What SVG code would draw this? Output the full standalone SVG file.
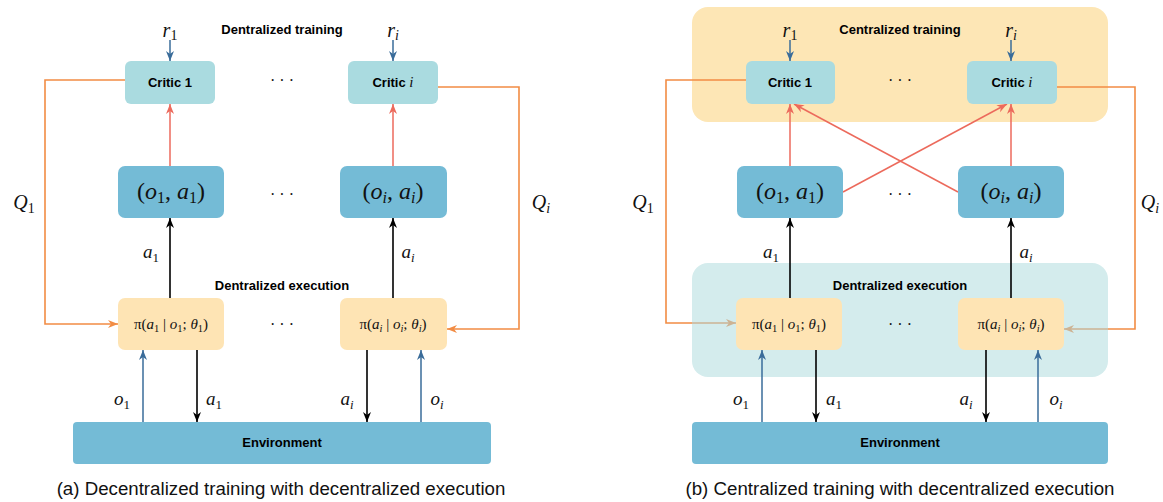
<svg xmlns="http://www.w3.org/2000/svg" width="1163" height="502" viewBox="0 0 1163 502">
<style>
.bg{fill:#ffffff}
.crit{fill:#aadbe0}
.oa{fill:#74bbd6}
.pol{fill:#fee4b4}
.env{fill:#74bbd6}
.trbg{fill:#fde6b5}
.exbg{fill:#d4eced}
.lbl{font-family:"Liberation Sans",Arial,sans-serif;font-weight:bold;font-size:13px;fill:#000;text-anchor:middle}
.cap{font-family:"Liberation Sans",Arial,sans-serif;font-size:18.7px;fill:#111;text-anchor:middle}
.m{font-family:"Liberation Serif","Times New Roman",serif;font-style:italic;fill:#111;text-anchor:middle}
.u{font-style:normal}
.dots{font-family:"Liberation Serif",serif;font-size:16px;fill:#111;text-anchor:middle}
.blk{stroke:#000;stroke-width:1.6;fill:none}
.blu{stroke:#3a6c9a;stroke-width:1.5;fill:none}
.red{stroke:#ec6a5c;stroke-width:1.5;fill:none}
.org{stroke:#f28c44;stroke-width:1.6;fill:none}
.tan{stroke:#cdb393;stroke-width:1.6;fill:none}
</style>
<defs>
<marker id="ab" viewBox="0 0 10 10" refX="10" refY="5" markerWidth="10" markerHeight="10" markerUnits="userSpaceOnUse" orient="auto"><path d="M0,1 L10,5 L0,9 L3,5 z" fill="#000"/></marker>
<marker id="au" viewBox="0 0 10 10" refX="10" refY="5" markerWidth="10" markerHeight="10" markerUnits="userSpaceOnUse" orient="auto"><path d="M0,1 L10,5 L0,9 L3,5 z" fill="#3a6c9a"/></marker>
<marker id="ar" viewBox="0 0 10 10" refX="10" refY="5" markerWidth="10" markerHeight="10" markerUnits="userSpaceOnUse" orient="auto"><path d="M0,1 L10,5 L0,9 L3,5 z" fill="#ec6a5c"/></marker>
<marker id="ao" viewBox="0 0 10 10" refX="10" refY="5" markerWidth="10" markerHeight="10" markerUnits="userSpaceOnUse" orient="auto"><path d="M0,1 L10,5 L0,9 L3,5 z" fill="#f28c44"/></marker>
<marker id="at" viewBox="0 0 10 10" refX="10" refY="5" markerWidth="10" markerHeight="10" markerUnits="userSpaceOnUse" orient="auto"><path d="M0,1 L10,5 L0,9 L3,5 z" fill="#cdb393"/></marker>
</defs>
<rect class="bg" x="0" y="0" width="1163" height="502"/>

<g id="centralized-training-region">
<rect class="trbg" x="692" y="7" width="416" height="115" rx="16"/>
<text class="lbl" x="900" y="34">Centralized training</text>
</g>
<g id="decentralized-execution-region-b">
<rect class="exbg" x="692" y="263" width="416" height="114" rx="16"/>
<text class="lbl" x="900" y="290">Dentralized execution</text>
</g>

<g id="connectors">
<line class="blu" x1="170" y1="40" x2="170" y2="61" marker-end="url(#au)"/>
<line class="blu" x1="393" y1="40" x2="393" y2="61" marker-end="url(#au)"/>
<line class="red" x1="170" y1="166" x2="170" y2="104" marker-end="url(#ar)"/>
<line class="red" x1="393" y1="166" x2="393" y2="104" marker-end="url(#ar)"/>
<line class="blk" x1="170" y1="298" x2="170" y2="218" marker-end="url(#ab)"/>
<line class="blk" x1="393" y1="298" x2="393" y2="218" marker-end="url(#ab)"/>
<polyline class="org" points="125,80 45,80 45,324 118,324" marker-end="url(#ao)"/>
<polyline class="org" points="438,87 519,87 519,329 447,329" marker-end="url(#ao)"/>
<line class="blu" x1="143" y1="422" x2="143" y2="350" marker-end="url(#au)"/>
<line class="blk" x1="197" y1="350" x2="197" y2="422" marker-end="url(#ab)"/>
<line class="blk" x1="367" y1="350" x2="367" y2="422" marker-end="url(#ab)"/>
<line class="blu" x1="421" y1="422" x2="421" y2="350" marker-end="url(#au)"/>
<line class="blu" x1="790" y1="40" x2="790" y2="61" marker-end="url(#au)"/>
<line class="blu" x1="1011" y1="40" x2="1011" y2="61" marker-end="url(#au)"/>
<line class="red" x1="790" y1="166" x2="790" y2="104" marker-end="url(#ar)"/>
<line class="red" x1="1011" y1="166" x2="1011" y2="104" marker-end="url(#ar)"/>
<line class="red" x1="843" y1="192" x2="1007" y2="104" marker-end="url(#ar)"/>
<line class="red" x1="958" y1="192" x2="794" y2="104" marker-end="url(#ar)"/>
<line class="blk" x1="790" y1="298" x2="790" y2="218" marker-end="url(#ab)"/>
<line class="blk" x1="1011" y1="298" x2="1011" y2="218" marker-end="url(#ab)"/>
<polyline class="org" points="746,80 666,80 666,323 692,323"/>
<line class="tan" x1="692" y1="323" x2="736" y2="323" marker-end="url(#at)"/>
<polyline class="org" points="1057,87 1135,87 1135,329 1108,329"/>
<line class="tan" x1="1108" y1="329" x2="1064" y2="329" marker-end="url(#at)"/>
<line class="blu" x1="762" y1="422" x2="762" y2="350" marker-end="url(#au)"/>
<line class="blk" x1="816" y1="350" x2="816" y2="422" marker-end="url(#ab)"/>
<line class="blk" x1="986" y1="350" x2="986" y2="422" marker-end="url(#ab)"/>
<line class="blu" x1="1038" y1="422" x2="1038" y2="350" marker-end="url(#au)"/>
</g>

<g id="edge-labels">
<text class="m" font-size="20" x="170" y="37">r<tspan class="u" font-size="14" dy="3">1</tspan></text>
<text class="m" font-size="20" x="393" y="37">r<tspan font-size="14" dy="3">i</tspan></text>
<text class="m" font-size="20" x="24" y="209">Q<tspan class="u" font-size="14" dy="4">1</tspan></text>
<text class="m" font-size="20" x="541" y="209">Q<tspan font-size="14" dy="4">i</tspan></text>
<text class="m" font-size="19" x="151" y="258">a<tspan class="u" font-size="13" dy="4">1</tspan></text>
<text class="m" font-size="19" x="408" y="258">a<tspan font-size="13" dy="4">i</tspan></text>
<text class="m" font-size="19" x="122" y="405">o<tspan class="u" font-size="13" dy="4">1</tspan></text>
<text class="m" font-size="19" x="214" y="405">a<tspan class="u" font-size="13" dy="4">1</tspan></text>
<text class="m" font-size="19" x="347" y="405">a<tspan font-size="13" dy="4">i</tspan></text>
<text class="m" font-size="19" x="437" y="405">o<tspan font-size="13" dy="4">i</tspan></text>
<text class="m" font-size="20" x="790" y="37">r<tspan class="u" font-size="14" dy="3">1</tspan></text>
<text class="m" font-size="20" x="1011" y="37">r<tspan font-size="14" dy="3">i</tspan></text>
<text class="m" font-size="20" x="643" y="209">Q<tspan class="u" font-size="14" dy="4">1</tspan></text>
<text class="m" font-size="20" x="1150" y="209">Q<tspan font-size="14" dy="4">i</tspan></text>
<text class="m" font-size="19" x="771" y="258">a<tspan class="u" font-size="13" dy="4">1</tspan></text>
<text class="m" font-size="19" x="1026" y="258">a<tspan font-size="13" dy="4">i</tspan></text>
<text class="m" font-size="19" x="741" y="405">o<tspan class="u" font-size="13" dy="4">1</tspan></text>
<text class="m" font-size="19" x="834" y="405">a<tspan class="u" font-size="13" dy="4">1</tspan></text>
<text class="m" font-size="19" x="966" y="405">a<tspan font-size="13" dy="4">i</tspan></text>
<text class="m" font-size="19" x="1056" y="405">o<tspan font-size="13" dy="4">i</tspan></text>
</g>

<g id="a-training-label"><text class="lbl" x="282" y="34">Dentralized training</text></g>
<g id="a-execution-label"><text class="lbl" x="282" y="290">Dentralized execution</text></g>
<g id="a-critic-1"><rect class="crit" x="125" y="61" width="90" height="43" rx="6"/><text class="lbl" x="170" y="87">Critic 1</text></g>
<g id="a-critic-i"><rect class="crit" x="348" y="61" width="90" height="43" rx="6"/><text class="lbl" x="393" y="87">Critic <tspan class="m" font-weight="normal" font-size="15">i</tspan></text></g>
<g id="a-obs-act-1"><rect class="oa" x="118" y="166" width="106" height="52" rx="7"/>
<text class="m" font-size="24" x="171" y="199"><tspan class="u">(</tspan>o<tspan class="u" font-size="16" dy="4">1</tspan><tspan class="u" dy="-4">, </tspan>a<tspan class="u" font-size="16" dy="4">1</tspan><tspan class="u" dy="-4">)</tspan></text></g>
<g id="a-obs-act-i"><rect class="oa" x="340" y="166" width="107" height="52" rx="7"/>
<text class="m" font-size="24" x="393" y="199"><tspan class="u">(</tspan>o<tspan font-size="16" dy="4">i</tspan><tspan class="u" dy="-4">, </tspan>a<tspan font-size="16" dy="4">i</tspan><tspan class="u" dy="-4">)</tspan></text></g>
<g id="a-policy-1"><rect class="pol" x="118" y="298" width="106" height="52" rx="7"/>
<text class="m" font-size="15" x="171" y="329"><tspan class="u">π(</tspan>a<tspan class="u" font-size="10.5" dy="3">1</tspan><tspan class="u" dy="-3"> | </tspan>o<tspan class="u" font-size="10.5" dy="3">1</tspan><tspan class="u" dy="-3">; </tspan>θ<tspan class="u" font-size="10.5" dy="3">1</tspan><tspan class="u" dy="-3">)</tspan></text></g>
<g id="a-policy-i"><rect class="pol" x="340" y="298" width="107" height="52" rx="7"/>
<text class="m" font-size="15" x="393" y="329"><tspan class="u">π(</tspan>a<tspan font-size="10.5" dy="3">i</tspan><tspan class="u" dy="-3"> | </tspan>o<tspan font-size="10.5" dy="3">i</tspan><tspan class="u" dy="-3">; </tspan>θ<tspan font-size="10.5" dy="3">i</tspan><tspan class="u" dy="-3">)</tspan></text></g>
<g id="a-environment"><rect class="env" x="73" y="422" width="418" height="42" rx="4"/><text class="lbl" font-size="12.5" x="282" y="447">Environment</text></g>
<g id="a-dots"><text class="dots" x="282" y="86">· · ·</text><text class="dots" x="282" y="200">· · ·</text><text class="dots" x="282" y="330">· · ·</text></g>
<g id="a-caption"><text class="cap" x="281" y="495">(a) Decentralized training with decentralized execution</text></g>

<g id="b-critic-1"><rect class="crit" x="746" y="61" width="89" height="43" rx="6"/><text class="lbl" x="790" y="87">Critic 1</text></g>
<g id="b-critic-i"><rect class="crit" x="967" y="61" width="90" height="43" rx="6"/><text class="lbl" x="1012" y="87">Critic <tspan class="m" font-weight="normal" font-size="15">i</tspan></text></g>
<g id="b-obs-act-1"><rect class="oa" x="737" y="166" width="106" height="52" rx="7"/>
<text class="m" font-size="24" x="790" y="199"><tspan class="u">(</tspan>o<tspan class="u" font-size="16" dy="4">1</tspan><tspan class="u" dy="-4">, </tspan>a<tspan class="u" font-size="16" dy="4">1</tspan><tspan class="u" dy="-4">)</tspan></text></g>
<g id="b-obs-act-i"><rect class="oa" x="958" y="166" width="106" height="52" rx="7"/>
<text class="m" font-size="24" x="1011" y="199"><tspan class="u">(</tspan>o<tspan font-size="16" dy="4">i</tspan><tspan class="u" dy="-4">, </tspan>a<tspan font-size="16" dy="4">i</tspan><tspan class="u" dy="-4">)</tspan></text></g>
<g id="b-policy-1"><rect class="pol" x="736" y="298" width="106" height="52" rx="7"/>
<text class="m" font-size="15" x="789" y="329"><tspan class="u">π(</tspan>a<tspan class="u" font-size="10.5" dy="3">1</tspan><tspan class="u" dy="-3"> | </tspan>o<tspan class="u" font-size="10.5" dy="3">1</tspan><tspan class="u" dy="-3">; </tspan>θ<tspan class="u" font-size="10.5" dy="3">1</tspan><tspan class="u" dy="-3">)</tspan></text></g>
<g id="b-policy-i"><rect class="pol" x="958" y="298" width="106" height="52" rx="7"/>
<text class="m" font-size="15" x="1011" y="329"><tspan class="u">π(</tspan>a<tspan font-size="10.5" dy="3">i</tspan><tspan class="u" dy="-3"> | </tspan>o<tspan font-size="10.5" dy="3">i</tspan><tspan class="u" dy="-3">; </tspan>θ<tspan font-size="10.5" dy="3">i</tspan><tspan class="u" dy="-3">)</tspan></text></g>
<g id="b-environment"><rect class="env" x="692" y="422" width="416" height="42" rx="4"/><text class="lbl" font-size="12.5" x="900" y="447">Environment</text></g>
<g id="b-dots"><text class="dots" x="900" y="86">· · ·</text><text class="dots" x="900" y="200">· · ·</text><text class="dots" x="900" y="330">· · ·</text></g>
<g id="b-caption"><text class="cap" x="900" y="495">(b) Centralized training with decentralized execution</text></g>
</svg>
